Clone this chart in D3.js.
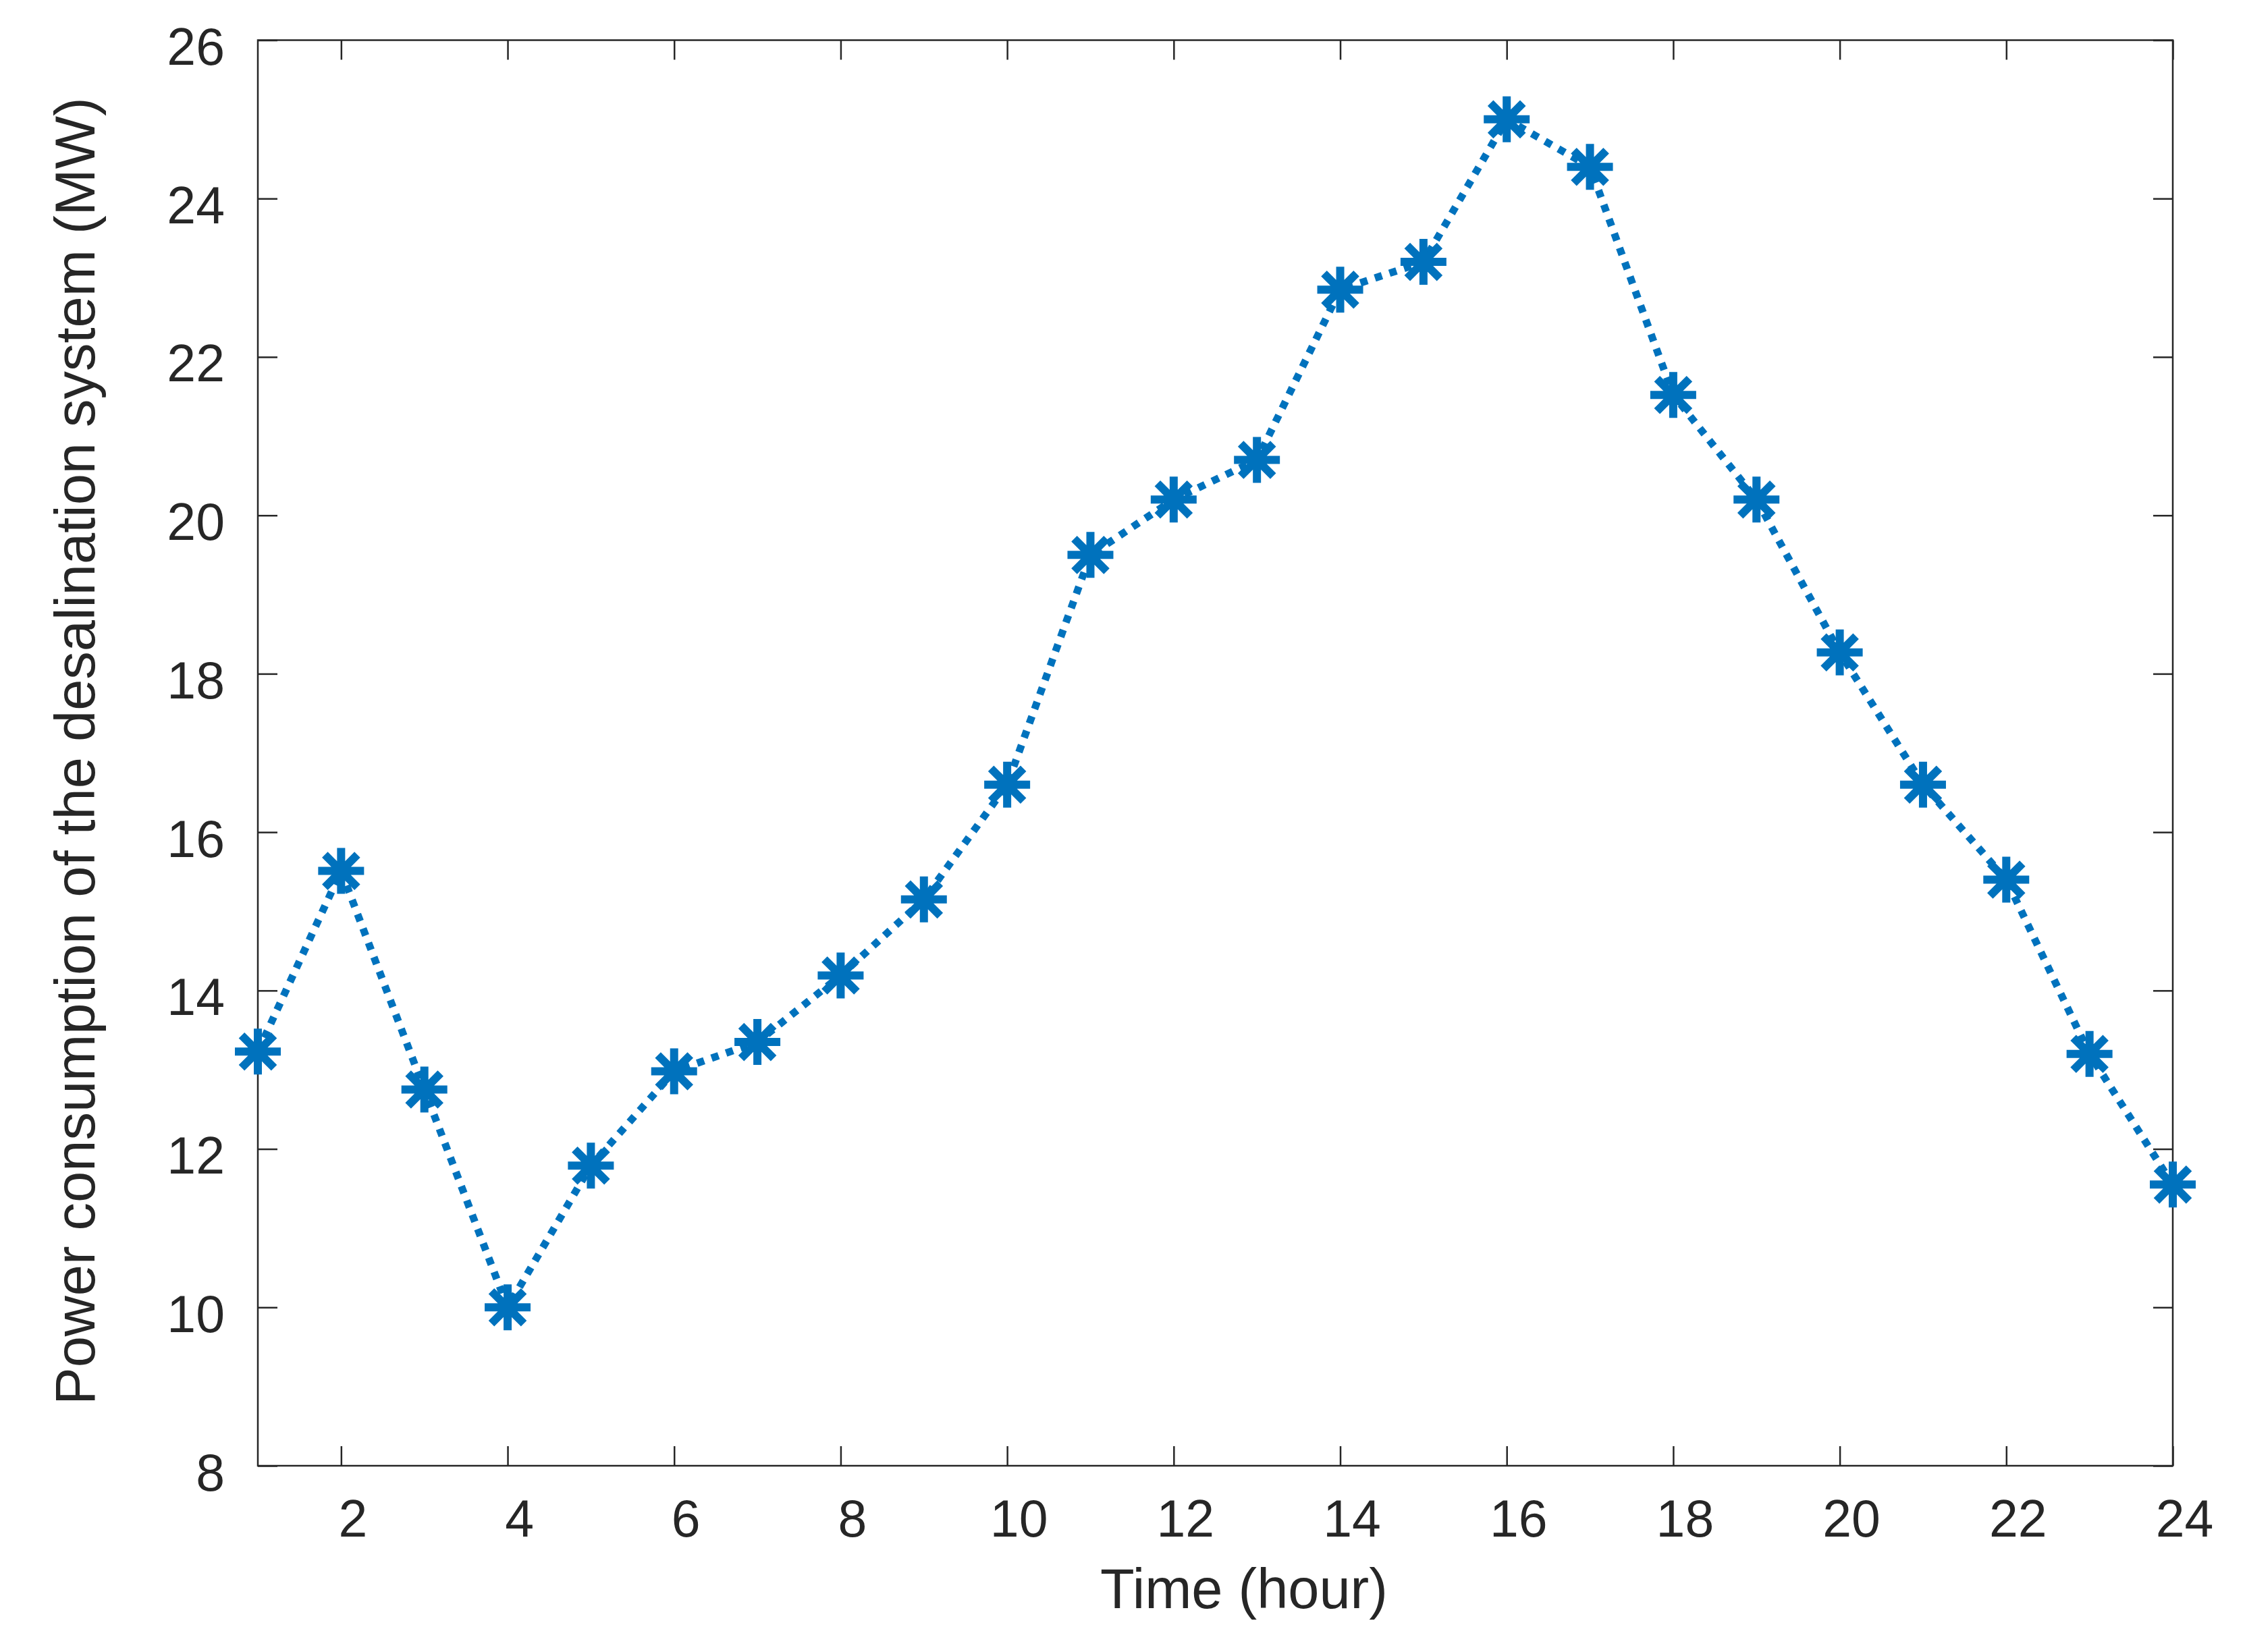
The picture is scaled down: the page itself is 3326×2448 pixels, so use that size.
<!DOCTYPE html>
<html>
<head>
<meta charset="utf-8">
<script src="https://cdn.jsdelivr.net/npm/d3@7"></script>
<style>
  body { margin: 0; background: #fff; }
  svg { display: block; }
  text { font-family: "Liberation Sans", Arial, sans-serif; fill: #262626; }
</style>
</head>
<body>
<div id="chart"></div>
<script>
// data
var hours = [1, 2, 3, 4, 5, 6, 7, 8, 9, 10, 11, 12, 13, 14, 15, 16, 17, 18, 19, 20, 21, 22, 23, 24];
var power = [13.23, 15.51, 12.75, 10.0, 11.79, 12.98, 13.35, 14.19, 15.15, 16.6, 19.5, 20.2,
             20.7, 22.85, 23.2, 25.0, 24.4, 21.52, 20.2, 18.27, 16.6, 15.4, 13.2, 11.55];
var xTicks = [2, 4, 6, 8, 10, 12, 14, 16, 18, 20, 22, 24];
var yTicks = [8, 10, 12, 14, 16, 18, 20, 22, 24, 26];

var svgWidth = 3326;
var svgHeight = 2448;

var margin = { top: 59.5, right: 107, bottom: 276, left: 382 };
var width = svgWidth - margin.left - margin.right;
var height = svgHeight - margin.top - margin.bottom;

var axisColor = "#262626";
var lineColor = "#0072BD";
var tickLen = 29;

var svg = d3.select("#chart")
    .append("svg")
    .attr("width", svgWidth)
    .attr("height", svgHeight);

var chartGroup = svg.append("g")
    .attr("transform", `translate(${margin.left}, ${margin.top})`);

var x = d3.scaleLinear().domain([1, 24]).range([0, width]);
var y = d3.scaleLinear().domain([8, 26]).range([height, 0]);

// bottom axis (ticks pointing inward)
var xAxisG = chartGroup.append("g")
    .attr("transform", `translate(0, ${height})`)
    .call(d3.axisBottom(x).tickValues(xTicks).tickSizeInner(-tickLen).tickSizeOuter(0).tickFormat(d3.format("d")));
xAxisG.selectAll("text")
    .attr("dy", null)
    .attr("y", 105)
    .attr("x", 17)
    .style("font-size", "77px");

// top axis, ticks only
chartGroup.append("g")
    .call(d3.axisTop(x).tickValues(xTicks).tickSizeInner(-tickLen).tickSizeOuter(0).tickFormat(""));

// left axis
var yAxisG = chartGroup.append("g")
    .call(d3.axisLeft(y).tickValues(yTicks).tickSizeInner(-tickLen).tickSizeOuter(0).tickFormat(d3.format("d")));
yAxisG.selectAll("text")
    .attr("dy", null)
    .attr("x", -49)
    .attr("y", 36)
    .style("font-size", "77px");

// right axis, ticks only
chartGroup.append("g")
    .attr("transform", `translate(${width}, 0)`)
    .call(d3.axisRight(y).tickValues(yTicks).tickSizeInner(-tickLen).tickSizeOuter(0).tickFormat(""));

chartGroup.selectAll(".domain").remove();
chartGroup.selectAll(".tick line")
    .attr("stroke", axisColor)
    .attr("stroke-width", 2.5);

// box
chartGroup.append("rect")
    .attr("width", width)
    .attr("height", height)
    .attr("fill", "none")
    .attr("stroke", axisColor)
    .attr("stroke-width", 2.5);

// dotted line
var line = d3.line()
    .x(function (d, i) { return x(hours[i]); })
    .y(function (d) { return y(d); });

chartGroup.append("path")
    .datum(power)
    .attr("d", line)
    .attr("fill", "none")
    .attr("stroke", lineColor)
    .attr("stroke-width", 11)
    .attr("stroke-dasharray", "11 11.7");

// asterisk markers
var r = 34, rd = r * Math.SQRT1_2;
var star = `M${-r},0H${r}M0,${-r}V${r}M${-rd},${-rd}L${rd},${rd}M${-rd},${rd}L${rd},${-rd}`;

chartGroup.selectAll(".marker")
    .data(power)
    .enter()
    .append("path")
    .attr("class", "marker")
    .attr("transform", function (d, i) { return `translate(${x(hours[i])}, ${y(d)})`; })
    .attr("d", star)
    .attr("fill", "none")
    .attr("stroke", lineColor)
    .attr("stroke-width", 12);

// axis labels
svg.append("text")
    .attr("x", 1843)
    .attr("y", 2383)
    .attr("text-anchor", "middle")
    .style("font-size", "83px")
    .text("Time (hour)");

svg.append("text")
    .attr("transform", "translate(140, 1113) rotate(-90)")
    .attr("text-anchor", "middle")
    .style("font-size", "83px")
    .text("Power consumption of the desalination system (MW)");
</script>
</body>
</html>
